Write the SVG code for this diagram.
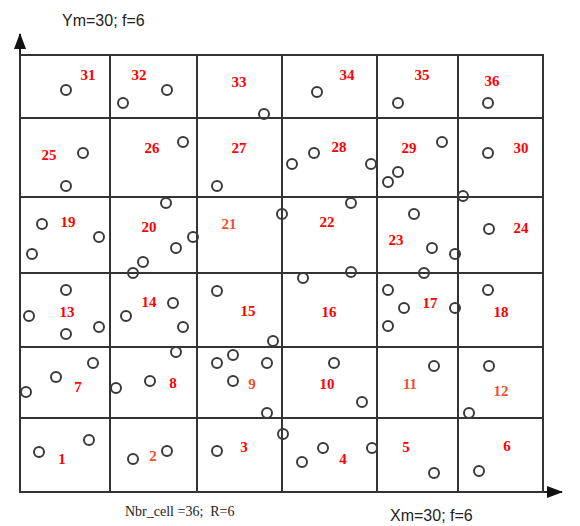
<svg xmlns="http://www.w3.org/2000/svg" width="580" height="526" viewBox="0 0 580 526">
<style>
.cell{fill:#fff;stroke:#333;stroke-width:2}
.lbl{font-family:"Liberation Serif","Times New Roman",serif;font-weight:bold;font-size:15px;fill:#ff0000;text-anchor:middle}
.lbl2{fill:#f4502c}
.s{fill:none;stroke:#3a3a3a;stroke-width:2}
.ax{stroke:#222;stroke-width:2;fill:none}
.cap{font-family:"Liberation Sans",Arial,sans-serif;font-size:16px;fill:#222}
.capS{font-family:"Liberation Serif","Times New Roman",serif;font-size:14px;fill:#222}
</style>
<defs>
<marker id="ah" markerWidth="16" markerHeight="12" refX="15" refY="6" orient="auto" markerUnits="userSpaceOnUse">
<path d="M0,0 L16,6 L0,12 Z" fill="#111"/>
</marker>
</defs>
<rect width="580" height="526" fill="#fff"/>
<g id="connectors">
<line class="ax" x1="20" y1="492" x2="20" y2="34" marker-end="url(#ah)"/>
<line class="ax" x1="20" y1="492" x2="562" y2="492" marker-end="url(#ah)"/>
</g>
<g id="cell-1"><rect class="cell" x="20" y="418" width="90" height="74"/><text class="lbl" x="62" y="464">1</text></g>
<g id="cell-2"><rect class="cell" x="110" y="418" width="87" height="74"/><text class="lbl lbl2" x="153" y="461">2</text></g>
<g id="cell-3"><rect class="cell" x="197" y="418" width="85" height="74"/><text class="lbl" x="244" y="452">3</text></g>
<g id="cell-4"><rect class="cell" x="282" y="418" width="95" height="74"/><text class="lbl" x="343" y="464">4</text></g>
<g id="cell-5"><rect class="cell" x="377" y="418" width="81" height="74"/><text class="lbl" x="406" y="452">5</text></g>
<g id="cell-6"><rect class="cell" x="458" y="418" width="85" height="74"/><text class="lbl" x="507" y="451">6</text></g>
<g id="cell-7"><rect class="cell" x="20" y="347" width="90" height="71"/><text class="lbl" x="78" y="392">7</text></g>
<g id="cell-8"><rect class="cell" x="110" y="347" width="87" height="71"/><text class="lbl" x="173" y="388">8</text></g>
<g id="cell-9"><rect class="cell" x="197" y="347" width="85" height="71"/><text class="lbl lbl2" x="252" y="389">9</text></g>
<g id="cell-10"><rect class="cell" x="282" y="347" width="95" height="71"/><text class="lbl" x="327" y="389">10</text></g>
<g id="cell-11"><rect class="cell" x="377" y="347" width="81" height="71"/><text class="lbl lbl2" x="410" y="389">11</text></g>
<g id="cell-12"><rect class="cell" x="458" y="347" width="85" height="71"/><text class="lbl lbl2" x="501" y="396">12</text></g>
<g id="cell-13"><rect class="cell" x="20" y="273" width="90" height="74"/><text class="lbl" x="67" y="317">13</text></g>
<g id="cell-14"><rect class="cell" x="110" y="273" width="87" height="74"/><text class="lbl" x="149" y="307">14</text></g>
<g id="cell-15"><rect class="cell" x="197" y="273" width="85" height="74"/><text class="lbl" x="248" y="316">15</text></g>
<g id="cell-16"><rect class="cell" x="282" y="273" width="95" height="74"/><text class="lbl" x="329" y="317">16</text></g>
<g id="cell-17"><rect class="cell" x="377" y="273" width="81" height="74"/><text class="lbl" x="430" y="308">17</text></g>
<g id="cell-18"><rect class="cell" x="458" y="273" width="85" height="74"/><text class="lbl" x="501" y="317">18</text></g>
<g id="cell-19"><rect class="cell" x="20" y="197" width="90" height="76"/><text class="lbl" x="68" y="227">19</text></g>
<g id="cell-20"><rect class="cell" x="110" y="197" width="87" height="76"/><text class="lbl" x="149" y="232">20</text></g>
<g id="cell-21"><rect class="cell" x="197" y="197" width="85" height="76"/><text class="lbl lbl2" x="229" y="229">21</text></g>
<g id="cell-22"><rect class="cell" x="282" y="197" width="95" height="76"/><text class="lbl" x="327" y="227">22</text></g>
<g id="cell-23"><rect class="cell" x="377" y="197" width="81" height="76"/><text class="lbl" x="396" y="245">23</text></g>
<g id="cell-24"><rect class="cell" x="458" y="197" width="85" height="76"/><text class="lbl" x="521" y="233">24</text></g>
<g id="cell-25"><rect class="cell" x="20" y="118" width="90" height="79"/><text class="lbl" x="49" y="160">25</text></g>
<g id="cell-26"><rect class="cell" x="110" y="118" width="87" height="79"/><text class="lbl" x="152" y="153">26</text></g>
<g id="cell-27"><rect class="cell" x="197" y="118" width="85" height="79"/><text class="lbl" x="239" y="153">27</text></g>
<g id="cell-28"><rect class="cell" x="282" y="118" width="95" height="79"/><text class="lbl" x="339" y="152">28</text></g>
<g id="cell-29"><rect class="cell" x="377" y="118" width="81" height="79"/><text class="lbl" x="409" y="153">29</text></g>
<g id="cell-30"><rect class="cell" x="458" y="118" width="85" height="79"/><text class="lbl" x="521" y="153">30</text></g>
<g id="cell-31"><rect class="cell" x="20" y="55" width="90" height="63"/><text class="lbl" x="88" y="80">31</text></g>
<g id="cell-32"><rect class="cell" x="110" y="55" width="87" height="63"/><text class="lbl" x="139" y="80">32</text></g>
<g id="cell-33"><rect class="cell" x="197" y="55" width="85" height="63"/><text class="lbl" x="239" y="87">33</text></g>
<g id="cell-34"><rect class="cell" x="282" y="55" width="95" height="63"/><text class="lbl" x="347" y="80">34</text></g>
<g id="cell-35"><rect class="cell" x="377" y="55" width="81" height="63"/><text class="lbl" x="422" y="80">35</text></g>
<g id="cell-36"><rect class="cell" x="458" y="55" width="85" height="63"/><text class="lbl" x="492" y="86">36</text></g>
<g id="sensors">
<circle class="s" cx="66" cy="90" r="5"/><circle class="s" cx="123" cy="103" r="5"/><circle class="s" cx="167" cy="90" r="5"/><circle class="s" cx="264" cy="114" r="5"/><circle class="s" cx="317" cy="92" r="5"/><circle class="s" cx="398" cy="103" r="5"/><circle class="s" cx="488" cy="103" r="5"/>
<circle class="s" cx="83" cy="153" r="5"/><circle class="s" cx="66" cy="186" r="5"/><circle class="s" cx="183" cy="142" r="5"/><circle class="s" cx="217" cy="186" r="5"/><circle class="s" cx="292" cy="164" r="5"/><circle class="s" cx="314" cy="153" r="5"/><circle class="s" cx="371" cy="164" r="5"/><circle class="s" cx="442" cy="142" r="5"/><circle class="s" cx="398" cy="172" r="5"/><circle class="s" cx="388" cy="182" r="5"/><circle class="s" cx="488" cy="153" r="5"/><circle class="s" cx="463" cy="196" r="5"/><circle class="s" cx="351" cy="203" r="5"/>
<circle class="s" cx="42" cy="224" r="5"/><circle class="s" cx="99" cy="237" r="5"/><circle class="s" cx="32" cy="254" r="5"/><circle class="s" cx="166" cy="203" r="5"/><circle class="s" cx="193" cy="237" r="5"/><circle class="s" cx="176" cy="248" r="5"/><circle class="s" cx="143" cy="262" r="5"/><circle class="s" cx="133" cy="273" r="5"/><circle class="s" cx="282" cy="214" r="5"/><circle class="s" cx="414" cy="214" r="5"/><circle class="s" cx="432" cy="248" r="5"/><circle class="s" cx="455" cy="254" r="5"/><circle class="s" cx="424" cy="273" r="5"/><circle class="s" cx="489" cy="229" r="5"/>
<circle class="s" cx="303" cy="278" r="5"/><circle class="s" cx="351" cy="272" r="5"/><circle class="s" cx="66" cy="290" r="5"/><circle class="s" cx="29" cy="316" r="5"/><circle class="s" cx="99" cy="327" r="5"/><circle class="s" cx="66" cy="334" r="5"/><circle class="s" cx="173" cy="303" r="5"/><circle class="s" cx="126" cy="316" r="5"/><circle class="s" cx="183" cy="327" r="5"/><circle class="s" cx="217" cy="291" r="5"/><circle class="s" cx="273" cy="341" r="5"/><circle class="s" cx="388" cy="290" r="5"/><circle class="s" cx="404" cy="308" r="5"/><circle class="s" cx="388" cy="326" r="5"/><circle class="s" cx="455" cy="308" r="5"/><circle class="s" cx="488" cy="290" r="5"/>
<circle class="s" cx="176" cy="352" r="5"/><circle class="s" cx="93" cy="363" r="5"/><circle class="s" cx="56" cy="377" r="5"/><circle class="s" cx="26" cy="392" r="5"/><circle class="s" cx="150" cy="381" r="5"/><circle class="s" cx="116" cy="388" r="5"/><circle class="s" cx="217" cy="363" r="5"/><circle class="s" cx="233" cy="355" r="5"/><circle class="s" cx="267" cy="363" r="5"/><circle class="s" cx="233" cy="381" r="5"/><circle class="s" cx="267" cy="413" r="5"/><circle class="s" cx="334" cy="363" r="5"/><circle class="s" cx="362" cy="402" r="5"/><circle class="s" cx="434" cy="366" r="5"/><circle class="s" cx="489" cy="366" r="5"/><circle class="s" cx="469" cy="413" r="5"/>
<circle class="s" cx="283" cy="434" r="5"/><circle class="s" cx="39" cy="452" r="5"/><circle class="s" cx="89" cy="440" r="5"/><circle class="s" cx="133" cy="459" r="5"/><circle class="s" cx="167" cy="451" r="5"/><circle class="s" cx="217" cy="451" r="5"/><circle class="s" cx="302" cy="462" r="5"/><circle class="s" cx="323" cy="448" r="5"/><circle class="s" cx="372" cy="448" r="5"/><circle class="s" cx="434" cy="473" r="5"/><circle class="s" cx="479" cy="471" r="5"/>
</g>
<text class="cap" x="62" y="26">Ym=30; f=6</text>
<text class="capS" x="125" y="516" xml:space="preserve">Nbr_cell =36;  R=6</text>
<text class="cap" x="390" y="521">Xm=30; f=6</text>
</svg>
